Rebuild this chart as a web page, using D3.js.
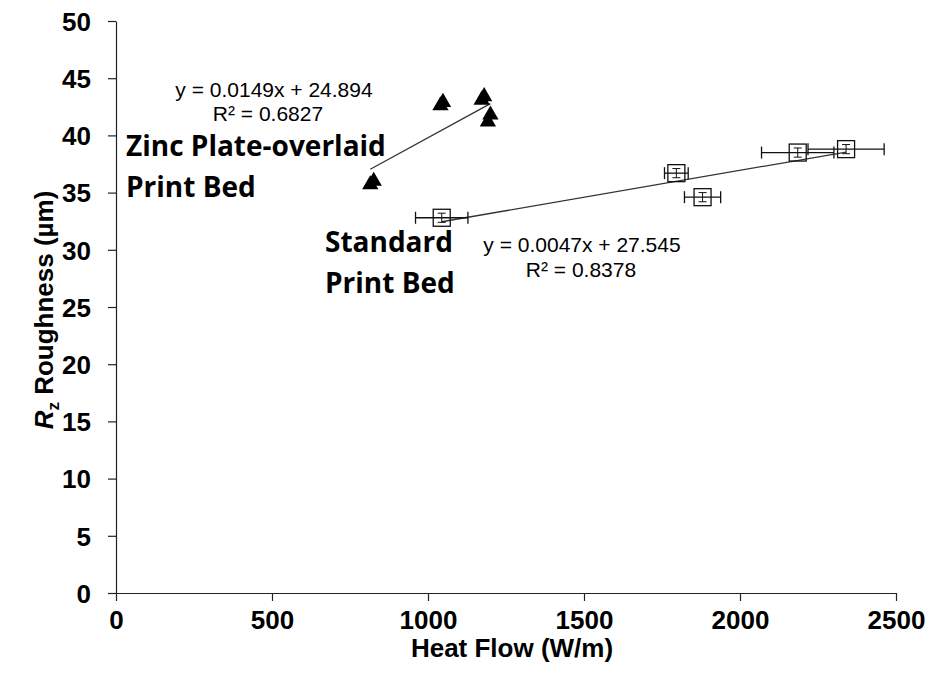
<!DOCTYPE html>
<html>
<head>
<meta charset="utf-8">
<script src="https://cdn.jsdelivr.net/npm/d3@7"></script>
<style>
  body { margin: 0; background: #fff; }
  svg text { fill: #000; }
</style>
</head>
<body>
<div id="vis"></div>
<script>
// data
var zincX = [815, 826, 1040, 1048, 1172, 1180, 1192, 1200];
var zincY = [35.7, 36.0, 42.6, 42.9, 43.1, 43.4, 41.2, 41.8];

var stdX = [1044, 1796, 1880, 2185, 2340];
var stdY = [32.8, 36.7, 34.6, 38.5, 38.8];
var stdXErr = [84, 38, 58, 116, 122];
var stdYErr = [0.4, 0.4, 0.4, 0.4, 0.4];

var zincFit = [0.0149, 24.894];
var stdFit = [0.0047, 27.545];

var xTicks = [0, 500, 1000, 1500, 2000, 2500];
var yTicks = [0, 5, 10, 15, 20, 25, 30, 35, 40, 45, 50];

var w = 930;
var h = 675;

let svg = d3.select("#vis")
            .append("svg")
            .attr("width", w)
            .attr("height", h);

var x_scale = d3.scaleLinear()
                .domain([0, 2500])
                .range([116, 896]);

var y_scale = d3.scaleLinear()
                .domain([0, 50])
                .range([593, 21]);

//axes
var xAxis = svg.append("g")
    .attr("transform", `translate(0,${y_scale(0)})`)
    .call(d3.axisBottom(x_scale).tickValues(xTicks).tickFormat(d3.format("d"))
          .tickSize(8).tickSizeOuter(0).tickPadding(10));

var yAxis = svg.append("g")
    .attr("transform", `translate(${x_scale(0)},0)`)
    .call(d3.axisLeft(y_scale).tickValues(yTicks).tickFormat(d3.format("d"))
          .tickSize(8).tickSizeOuter(0).tickPadding(17));

[xAxis, yAxis].forEach(function(a) {
  a.selectAll("path, line").attr("stroke", "#222").attr("stroke-width", 1.2);
  a.selectAll("text")
   .attr("font-family", "Liberation Sans, Arial, sans-serif")
   .attr("font-weight", "bold")
   .attr("font-size", 26)
   .attr("fill", "#000");
});
yAxis.selectAll("text").attr("dy", "0.36em");

//trendlines
function fitLine(xs, fit) {
  var x0 = d3.min(xs), x1 = d3.max(xs);
  return [[x0, fit[0] * x0 + fit[1]], [x1, fit[0] * x1 + fit[1]]];
}
var line = d3.line().x(d => x_scale(d[0])).y(d => y_scale(d[1]));

svg.append("path")
   .attr("d", line(fitLine(zincX, zincFit)))
   .attr("stroke", "#333").attr("stroke-width", 1.3).attr("fill", "none");

svg.append("path")
   .attr("d", line(fitLine(stdX, stdFit)))
   .attr("stroke", "#333").attr("stroke-width", 1.3).attr("fill", "none");

//standard print bed: squares with error bars
var std = stdX.map((d, i) => ({x: d, y: stdY[i], ex: stdXErr[i], ey: stdYErr[i]}));
var cap = 6;
var eb = svg.append("g").attr("stroke", "#111").attr("stroke-width", 1.3);

std.forEach(function(d) {
  var cy = y_scale(d.y);
  var xl = x_scale(d.x - d.ex), xr = x_scale(d.x + d.ex);
  eb.append("line").attr("x1", xl).attr("x2", xr).attr("y1", cy).attr("y2", cy);
  eb.append("line").attr("x1", xl).attr("x2", xl).attr("y1", cy - cap).attr("y2", cy + cap);
  eb.append("line").attr("x1", xr).attr("x2", xr).attr("y1", cy - cap).attr("y2", cy + cap);
});

svg.append("g").selectAll("rect")
   .data(std)
   .enter()
   .append("rect")
   .attr("x", d => x_scale(d.x) - 8.5)
   .attr("y", d => y_scale(d.y) - 8.5)
   .attr("width", 17)
   .attr("height", 17)
   .attr("fill", "none")
   .attr("stroke", "#111")
   .attr("stroke-width", 1.3);

var eb2 = svg.append("g").attr("stroke", "#111").attr("stroke-width", 1);
std.forEach(function(d) {
  var cx = x_scale(d.x);
  var yt = y_scale(d.y + d.ey), yb = y_scale(d.y - d.ey);
  eb2.append("line").attr("x1", cx).attr("x2", cx).attr("y1", yt).attr("y2", yb);
  eb2.append("line").attr("x1", cx - 4).attr("x2", cx + 4).attr("y1", yt).attr("y2", yt);
  eb2.append("line").attr("x1", cx - 4).attr("x2", cx + 4).attr("y1", yb).attr("y2", yb);
});

//zinc plate: filled triangles
svg.append("g").selectAll("path")
   .data(zincX.map((d, i) => [d, zincY[i]]))
   .enter()
   .append("path")
   .attr("d", d3.symbol().type(d3.symbolTriangle).size(115))
   .attr("transform", d => `translate(${x_scale(d[0])},${y_scale(d[1])})`)
   .attr("fill", "#000");

//equation labels
var eq = svg.append("g")
   .attr("font-family", "Liberation Sans, Arial, sans-serif")
   .attr("font-size", 21)
   .attr("text-anchor", "middle");
eq.append("text").attr("x", 274).attr("y", 97).text("y = 0.0149x + 24.894");
eq.append("text").attr("x", 268).attr("y", 121).text("R² = 0.6827");
eq.append("text").attr("x", 582).attr("y", 252).text("y = 0.0047x + 27.545");
eq.append("text").attr("x", 581).attr("y", 277).text("R² = 0.8378");

//series labels
var lab = svg.append("g")
   .attr("font-family", "Open Sans, sans-serif")
   .attr("font-weight", "bold")
   .attr("font-size", 28);
lab.append("text").attr("x", 126).attr("y", 156).text("Zinc Plate-overlaid");
lab.append("text").attr("x", 126).attr("y", 197).text("Print Bed");
lab.append("text").attr("x", 325).attr("y", 252).text("Standard");
lab.append("text").attr("x", 325).attr("y", 293).text("Print Bed");

//axis titles
svg.append("text")
   .attr("x", 512).attr("y", 657)
   .attr("text-anchor", "middle")
   .attr("font-family", "Liberation Sans, Arial, sans-serif")
   .attr("font-weight", "bold")
   .attr("font-size", 26)
   .text("Heat Flow (W/m)");

var yt = svg.append("text")
   .attr("transform", "translate(53,310) rotate(-90)")
   .attr("text-anchor", "middle")
   .attr("font-family", "Liberation Sans, Arial, sans-serif")
   .attr("font-weight", "bold")
   .attr("font-size", 26);
yt.append("tspan").attr("font-style", "italic").text("R");
yt.append("tspan").attr("font-size", 17).attr("dy", 6).text("z");
yt.append("tspan").attr("dy", -6).text(" Roughness (\u00b5m)");
</script>
</body>
</html>
